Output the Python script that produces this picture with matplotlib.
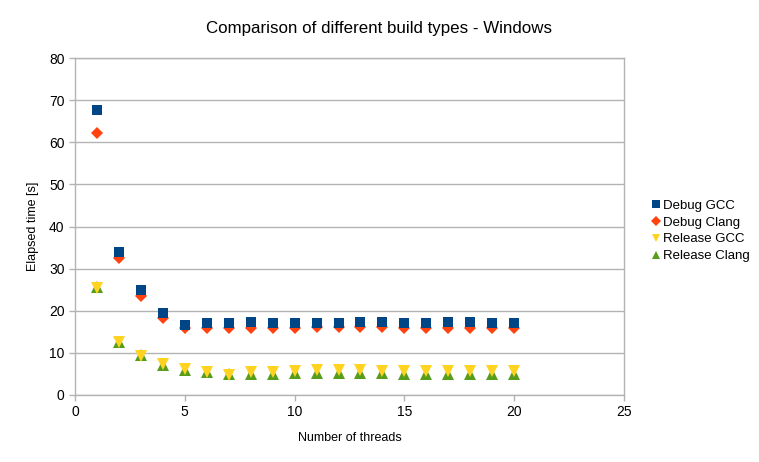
import matplotlib
matplotlib.use("Agg")
import matplotlib.pyplot as plt

plt.rcParams["font.family"] = ["Liberation Sans", "DejaVu Sans"]

threads = list(range(1, 21))
debug_gcc = [67.6, 33.9, 24.9, 19.5, 16.5, 17.0, 17.1, 17.3, 17.1, 17.1,
             17.0, 17.1, 17.3, 17.3, 17.1, 17.1, 17.3, 17.3, 17.1, 17.1]
debug_clang = [62.3, 32.5, 23.6, 18.3, 16.0, 16.0, 15.8, 16.0, 16.0, 16.0,
               16.1, 16.1, 16.1, 16.1, 16.0, 16.0, 16.0, 16.0, 16.0, 16.0]
release_gcc = [25.5, 12.7, 9.2, 7.4, 6.2, 5.4, 4.8, 5.5, 5.5, 5.7,
               5.9, 5.9, 5.9, 5.7, 5.8, 5.8, 5.8, 5.8, 5.8, 5.8]
release_clang = [25.6, 12.7, 9.4, 7.2, 6.0, 5.4, 5.0, 5.0, 5.0, 5.2,
                 5.2, 5.2, 5.2, 5.2, 5.0, 5.0, 5.1, 5.1, 5.1, 5.0]

series = [
    ("Debug GCC", debug_gcc, "s", "#004586", 8),
    ("Debug Clang", debug_clang, "D", "#ff420e", 7),
    ("Release GCC", release_gcc, "v", "#ffd320", 6),
    ("Release Clang", release_clang, "^", "#579d1c", 5),
]

fig = plt.figure(figsize=(7.59, 4.62), dpi=100)
ax = fig.add_axes([75 / 759, 1 - 395 / 462, 549 / 759, 337 / 462])

grid_c = "#b3b3b3"
for label, vals, mk, col, z in series:
    size = 7.5 if mk == "s" else (6.3 if mk == "D" else 8)
    ax.plot(threads, vals, linestyle="none", marker=mk, color=col,
            markersize=size, markeredgewidth=0, label=label, zorder=z)

ax.set_xlim(0, 25)
ax.set_ylim(0, 80)
ax.set_xticks(range(0, 26, 5))
ax.set_yticks(range(0, 81, 10))
ax.yaxis.grid(True, color=grid_c, linewidth=1)
ax.set_axisbelow(True)
for s in ax.spines.values():
    s.set_color(grid_c)
    s.set_linewidth(1)
ax.tick_params(colors=grid_c, labelcolor="black", labelsize=10, length=4, width=1)

ax.set_xlabel("Number of threads", fontsize=9, labelpad=9)
ax.set_ylabel("Elapsed time [s]", fontsize=9, labelpad=7)
fig.suptitle("Comparison of different build types - Windows", fontsize=12.2, y=0.955)

ax.legend(loc="center left", bbox_to_anchor=(1.025, 0.487), frameon=False,
          fontsize=9.5, handletextpad=0.1, handlelength=0.9, labelspacing=0.35,
          markerscale=0.8)

fig.savefig("out.png", dpi=100)
